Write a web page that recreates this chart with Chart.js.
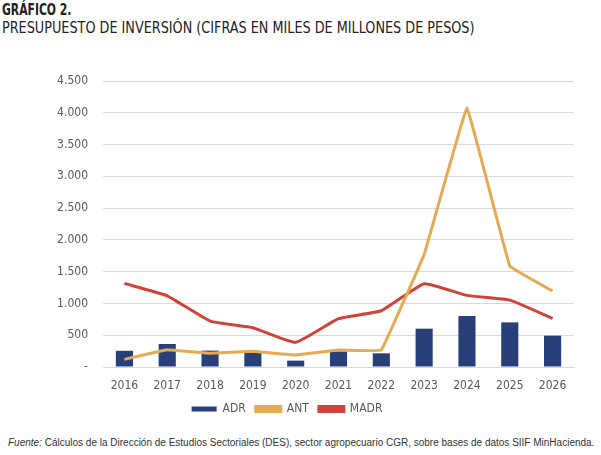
<!DOCTYPE html>
<html>
<head>
<meta charset="utf-8">
<script src="https://cdn.jsdelivr.net/npm/chart.js@4/dist/chart.umd.min.js"></script>
<style>
  body { margin: 0; background: #fff; width: 601px; height: 455px; overflow: hidden; position: relative; }
  .t1 { position: absolute; left: 2px; top: 1px; font: bold 15px "DejaVu Sans Condensed", sans-serif; color: #222; transform: scaleX(0.8); transform-origin: left top; }
  .t2 { position: absolute; left: 2px; top: 18px; font: 16px "DejaVu Sans Condensed", sans-serif; color: #222; transform: scaleX(0.89); transform-origin: left top; white-space: nowrap; }
  .src { position: absolute; left: 8px; top: 437px; font: 10px "Liberation Sans", Arial, sans-serif; color: #333; white-space: nowrap; }
  #wrap { position: absolute; left: 0; top: 50px; width: 601px; height: 375px; }
</style>
</head>
<body>
<div class="t1">GRÁFICO 2.</div>
<div class="t2">PRESUPUESTO DE INVERSIÓN (CIFRAS EN MILES DE MILLONES DE PESOS)</div>
<div id="wrap"><canvas id="investChart"></canvas></div>
<div class="src"><i>Fuente:</i> Cálculos de la Dirección de Estudios Sectoriales (DES), sector agropecuario CGR, sobre bases de datos SIIF MinHacienda.</div>
<script>
// Years and series (miles de millones de pesos)
const years = ['2016', '2017', '2018', '2019', '2020', '2021', '2022', '2023', '2024', '2025', '2026'];
const adr = [255, 362, 258, 235, 100, 245, 215, 603, 802, 702, 493];
const ant = [120, 272, 215, 246, 189, 267, 267, 1771, 4078, 1588, 1195];
const madr = [1316, 1121, 723, 618, 388, 760, 885, 1310, 1127, 1053, 765];
const yTicks = [0, 500, 1000, 1500, 2000, 2500, 3000, 3500, 4000, 4500];

const narrow = '"DejaVu Sans Condensed", sans-serif';

function fmt(v) {
    if (v === 0) return '-';
    return String(v).replace(/\B(?=(\d{3})+(?!\d))/g, '.');
}

const ctx = document.getElementById('investChart').getContext('2d');
const investChart = new Chart(ctx, {
    type: 'bar',
    data: {
        labels: years,
        datasets: [{
            label: 'ADR',
            data: adr,
            backgroundColor: '#283f7a',
            categoryPercentage: 0.8,
            barPercentage: 0.5,
            order: 1
        }, {
            type: 'line',
            label: 'ANT',
            data: ant,
            borderColor: '#e6aa52',
            backgroundColor: '#e6aa52',
            borderWidth: 3,
            pointRadius: 0,
            tension: 0.04,
            order: 0
        }, {
            type: 'line',
            label: 'MADR',
            data: madr,
            borderColor: '#cf4339',
            backgroundColor: '#cf4339',
            borderWidth: 3,
            pointRadius: 0,
            tension: 0.12,
            order: 0
        }]
    },
    options: {
        responsive: true,
        maintainAspectRatio: false,
        animation: false,
        layout: { padding: { top: 31, right: 27, left: 0, bottom: 0 } },
        plugins: {
            tooltip: { enabled: false },
            legend: {
                position: 'bottom',
                labels: {
                    boxWidth: 25,
                    boxHeight: 5,
                    padding: 10,
                    color: '#595959',
                    font: { family: narrow, size: 12 },
                    sort: (a, b) => a.datasetIndex - b.datasetIndex
                }
            }
        },
        scales: {
            x: {
                grid: { display: false },
                border: { color: '#d9d9d9' },
                ticks: { color: '#595959', font: { family: narrow, size: 12 }, padding: 4 },
                afterFit: (scale) => { scale.height = 26; }
            },
            y: {
                min: 0,
                max: 4500,
                afterBuildTicks: (scale) => { scale.ticks = yTicks.map(v => ({ value: v })); },
                afterFit: (scale) => { scale.width = 103; },
                grid: { color: '#d9d9d9', lineWidth: 1, drawTicks: false },
                border: { display: false },
                ticks: {
                    color: '#595959',
                    font: { family: narrow, size: 12 },
                    padding: 15,
                    callback: (v) => fmt(v)
                }
            }
        }
    }
});
</script>
</body>
</html>
